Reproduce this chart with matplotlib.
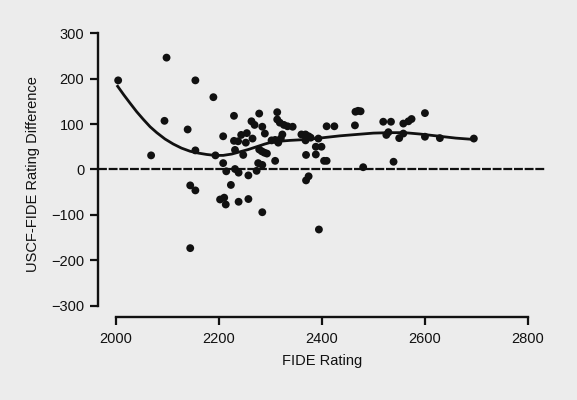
import matplotlib
matplotlib.use("Agg")
import matplotlib.pyplot as plt

# FIDE rating vs USCF-FIDE rating difference
fide = [2004, 2098, 2068, 2094, 2139, 2154, 2154, 2144, 2154, 2144,
        2189, 2193, 2208, 2208, 2214, 2202, 2210, 2213, 2223, 2229,
        2229, 2237, 2231, 2231, 2238, 2238, 2243, 2254, 2247, 2252,
        2257, 2257, 2263, 2265, 2269, 2278, 2276, 2273, 2278, 2284,
        2284, 2289, 2283, 2288, 2293, 2284, 2302, 2309, 2309, 2313,
        2313, 2318, 2326, 2323, 2315, 2320, 2333, 2343, 2360, 2368,
        2368, 2374, 2378, 2369, 2369, 2374, 2388, 2393, 2399, 2388,
        2394, 2404, 2409, 2409, 2424, 2465, 2470, 2475, 2464, 2480,
        2519, 2534, 2525, 2529, 2539, 2550, 2558, 2558, 2568, 2574,
        2600, 2600, 2629, 2695]
diff = [196, 246, 31, 107, 88, 196, 42, -35, -46, -173,
        159, 31, 73, 14, -4, -66, -62, -77, -34, 118,
        63, 62, 43, 1, -7, -71, 76, 80, 32, 59,
        -13, -65, 106, 68, 98, 123, 14, -3, 44, 94,
        10, 79, 40, 37, 35, -94, 64, 65, 19, 126,
        110, 103, 98, 77, 59, 68, 95, 94, 77, 77,
        64, 73, 70, 32, -24, -15, 50, 68, 50, 33,
        -132, 19, 19, 95, 95, 127, 129, 128, 97, 5,
        105, 105, 76, 82, 17, 69, 79, 101, 106, 111,
        124, 72, 69, 68]

# smoothed trend line
curve_x = [2003, 2015, 2027, 2040, 2053, 2066, 2079, 2095, 2111, 2127,
           2144, 2160, 2176, 2192, 2208, 2225, 2241, 2257, 2273, 2289,
           2305, 2338, 2370, 2403, 2435, 2467, 2500, 2532, 2560, 2590,
           2629, 2660, 2695]
curve_y = [183, 164, 146, 127, 110, 94, 81, 67, 56, 47,
           40, 36, 33, 31, 31, 34, 39, 44, 50, 56,
           61, 64, 66, 70, 74, 77, 80, 81, 81, 78,
           73, 69, 66]

xticks = [2000, 2200, 2400, 2600, 2800]
yticks = [-300, -200, -100, 0, 100, 200, 300]

ink = "#111111"
bg = "#ececec"

plt.rcParams["font.family"] = ["Liberation Sans", "DejaVu Sans"]

fig = plt.figure(figsize=(5.77, 4.0), dpi=100, facecolor=bg)
ax = fig.add_axes([0.170, 0.208, 0.777, 0.715], facecolor=bg)

ax.axhline(0, color=ink, lw=1.6, dashes=(4, 0.8), zorder=1)
ax.plot(curve_x, curve_y, color=ink, lw=2.0, zorder=2)
ax.scatter(fide, diff, s=32, color=ink, edgecolors="none", zorder=3)

ax.set_xlim(1965, 2836)
ax.set_ylim(-324, 305)
ax.set_xticks(xticks)
ax.set_yticks(yticks)

for side in ["top", "right"]:
    ax.spines[side].set_visible(False)
ax.spines["left"].set_bounds(-300, 300)
ax.spines["bottom"].set_bounds(2000, 2800)
for side in ["left", "bottom"]:
    ax.spines[side].set_linewidth(1.7)
    ax.spines[side].set_color(ink)

ax.tick_params(axis="both", direction="out", length=6, width=1.6,
               color=ink, labelcolor=ink, labelsize=10.5)
ax.tick_params(axis="y", pad=4)
ax.tick_params(axis="x", pad=5)

ax.set_xlabel("FIDE Rating", fontsize=10.5, color=ink, labelpad=6)
ax.set_ylabel("USCF-FIDE Rating Difference", fontsize=10.5, color=ink, labelpad=8)

fig.savefig("out.png", dpi=100, facecolor=bg)
